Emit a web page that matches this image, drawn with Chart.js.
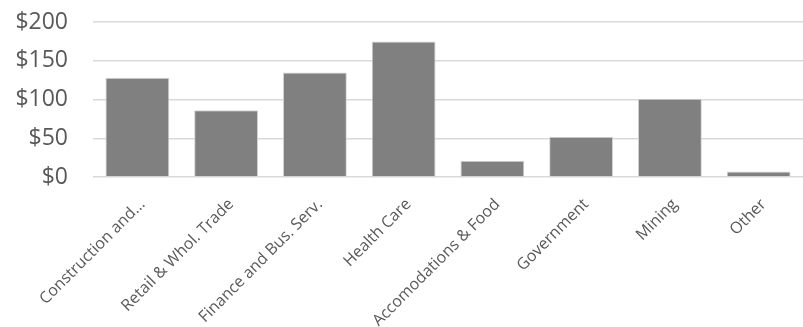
<!DOCTYPE html>
<html>
<head>
<meta charset="utf-8">
<script src="https://cdn.jsdelivr.net/npm/chart.js@4"></script>
<style>
  html, body { margin: 0; padding: 0; background: #fff; }
  #wrap { width: 803px; height: 327px; position: relative; }
</style>
</head>
<body>
<div id="wrap"><canvas id="chart-canvas"></canvas></div>
<script>
// Chart data
const categories = ['Construction and...', 'Retail & Whol. Trade', 'Finance and Bus. Serv.', 'Health Care',
  'Accomodations & Food', 'Government', 'Mining', 'Other'];
const amounts = [128, 86, 135, 175, 21, 52, 101, 7];
const yTicks = [0, 50, 100, 150, 200];

const ctx = document.getElementById('chart-canvas').getContext('2d');
new Chart(ctx, {
  type: 'bar',
  data: {
    labels: categories,
    datasets: [{
      data: amounts,
      backgroundColor: '#808080',
      borderColor: '#d4d4d4',
      borderWidth: 1,
      categoryPercentage: 1,
      barPercentage: 0.72
    }]
  },
  options: {
    responsive: true,
    maintainAspectRatio: false,
    animation: false,
    layout: { padding: { top: 22, right: 0, bottom: 0, left: 0 } },
    plugins: { legend: { display: false }, tooltip: { enabled: false } },
    scales: {
      x: {
        afterFit: scale => {
          scale.height = 150;
          scale.paddingLeft = 0;
          scale.paddingRight = 0;
        },
        grid: { display: false },
        border: { display: false },
        ticks: {
          color: '#595959',
          font: { family: 'Open Sans', size: 16 },
          maxRotation: 45,
          minRotation: 45,
          autoSkip: false,
          padding: 10,
          labelOffset: 5
        }
      },
      y: {
        min: 0,
        max: 200,
        afterBuildTicks: scale => { scale.ticks = yTicks.map(v => ({ value: v })); },
        afterFit: scale => {
          scale.width = 93;
          scale.paddingTop = 0;
          scale.paddingBottom = 0;
        },
        grid: { color: '#d9d9d9', lineWidth: 1.5, drawTicks: false },
        border: { display: false },
        ticks: {
          color: '#595959',
          font: { family: 'Open Sans', size: 23 },
          padding: 25,
          callback: v => '$' + v
        }
      }
    }
  }
});
</script>
</body>
</html>
